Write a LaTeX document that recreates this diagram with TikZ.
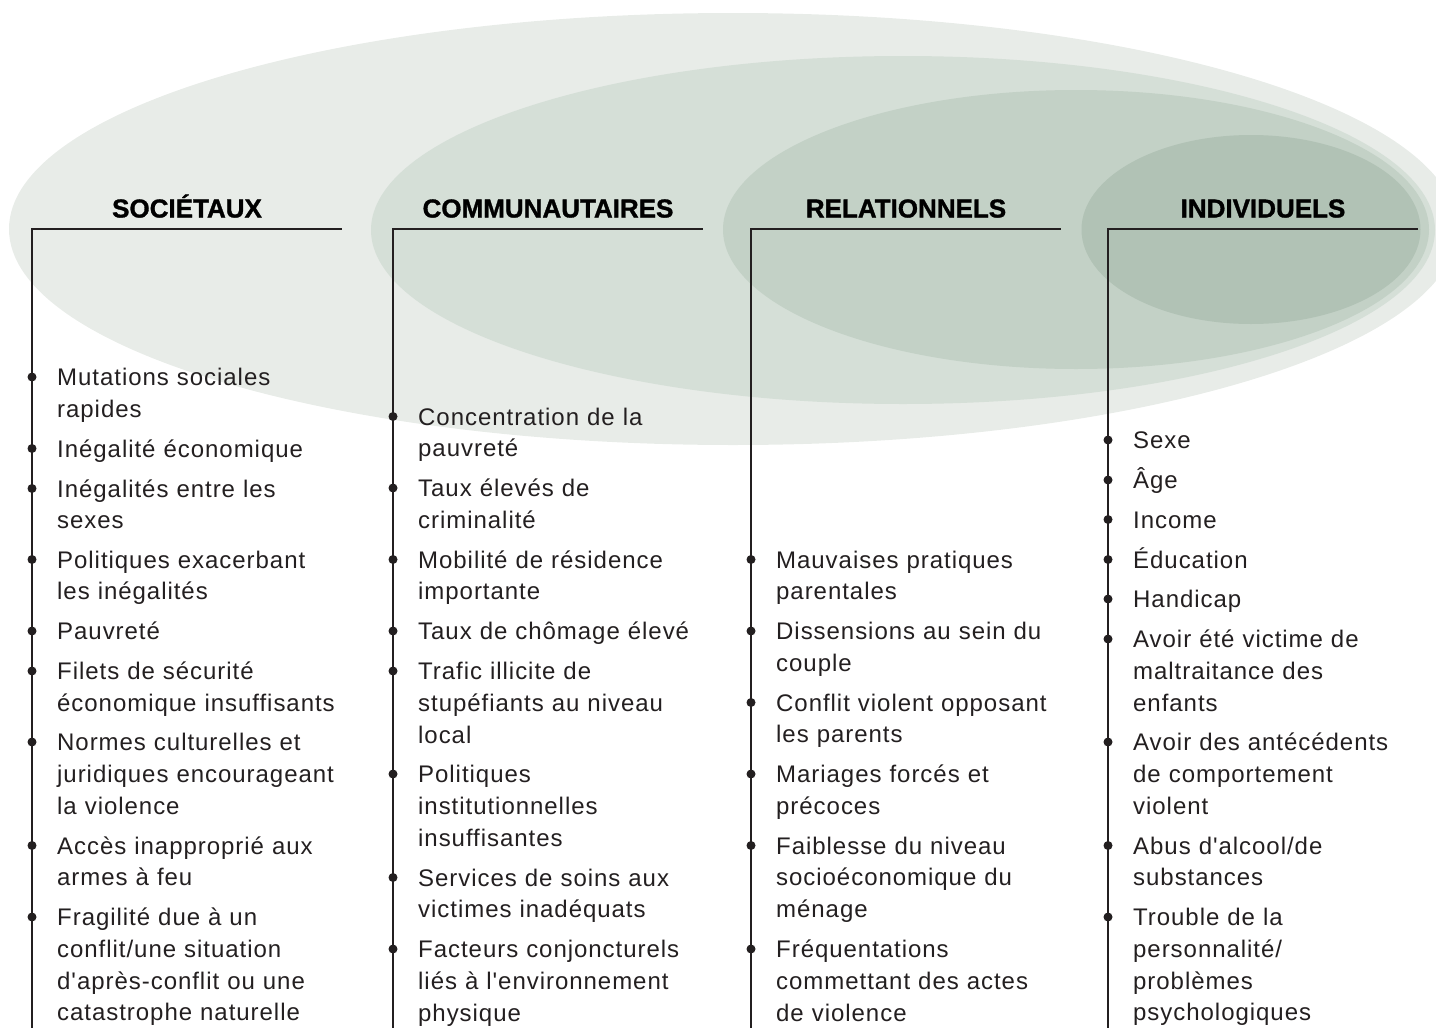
\documentclass[tikz,border=0pt]{standalone}
\usepackage{fontspec}
\newfontfamily\bodyfont{Liberation Sans}[LetterSpace=4,Ligatures=TeXOff]
\newfontfamily\headfont{Liberation Sans}[Ligatures=TeXOff,BoldFeatures={FakeBold=1.2}]
\definecolor{ellA}{HTML}{E8ECE8}
\definecolor{ellB}{HTML}{D5DFD7}
\definecolor{ellC}{HTML}{C3D1C6}
\definecolor{ellD}{HTML}{B1C2B5}
\definecolor{txt}{HTML}{231F20}
\tikzset{
  factor/.style={anchor=base west, inner sep=0pt, text width=330pt, align=left,
    font=\bodyfont\fontsize{24}{31.75}\selectfont, text=txt},
  head/.style={anchor=base, inner sep=0pt, font=\headfont\bfseries\fontsize{26}{30}\selectfont, text=black},
  rule/.style={line width=2pt, draw=txt},
  dot/.style={fill=txt}
}
% #1 name, #2 line x, #3 first-line centre y, #4 text
\newcommand\factoritem[4]{%
  \fill[dot] (#2,#3) circle (4.5pt);
  \node[factor] (#1) at ({#2+25},{#3+8.5}) {#4};
}
\begin{document}
\begin{tikzpicture}[x=1pt,y=-1pt]
\useasboundingbox (0,0) rectangle (1436,1028);
\clip (0,0) rectangle (1436,1028);
% nested ellipses
\fill[ellA] (733,229) ellipse [x radius=724pt, y radius=216pt];
\fill[ellB] (903,230) ellipse [x radius=532pt, y radius=174pt];
\fill[ellC] (1076,229.5) ellipse [x radius=353pt, y radius=139.5pt];
\fill[ellD] (1251,229.5) ellipse [x radius=169.5pt, y radius=94.5pt];

% column frames
\coordinate (s0) at (32,1028);   \coordinate (s1) at (342,229);
\coordinate (c0) at (393,1028);  \coordinate (c1) at (703,229);
\coordinate (r0) at (751,1028);  \coordinate (r1) at (1061,229);
\coordinate (i0) at (1108,1028); \coordinate (i1) at (1418,229);
\draw[rule] (s0) |- (s1);
\draw[rule] (c0) |- (c1);
\draw[rule] (r0) |- (r1);
\draw[rule] (i0) |- (i1);

% headings
\node[head] (hs) at (187,217.5) {SOCIÉTAUX};
\node[head] (hc) at (548,217.5) {COMMUNAUTAIRES};
\node[head] (hr) at (906,217.5) {RELATIONNELS};
\node[head] (hi) at (1263,217.5) {INDIVIDUELS};

% Sociétaux
\factoritem{s1}{32}{377}{Mutations sociales\\rapides}
\factoritem{s2}{32}{448.5}{Inégalité économique}
\factoritem{s3}{32}{488.5}{Inégalités entre les\\sexes}
\factoritem{s4}{32}{559.5}{Politiques exacerbant\\les inégalités}
\factoritem{s5}{32}{631}{Pauvreté}
\factoritem{s6}{32}{671}{Filets de sécurité\\économique insuffisants}
\factoritem{s7}{32}{742}{Normes culturelles et\\juridiques encourageant\\la violence}
\factoritem{s8}{32}{845.5}{Accès inapproprié aux\\armes à feu}
\factoritem{s9}{32}{917}{Fragilité due à un\\conflit/une situation\\d'après-conflit ou une\\catastrophe naturelle}

% Communautaires
\factoritem{c1}{393}{416.5}{Concentration de la\\pauvreté}
\factoritem{c2}{393}{488}{Taux élevés de\\criminalité}
\factoritem{c3}{393}{559.5}{Mobilité de résidence\\importante}
\factoritem{c4}{393}{631}{Taux de chômage élevé}
\factoritem{c5}{393}{671}{Trafic illicite de\\stupéfiants au niveau\\local}
\factoritem{c6}{393}{774}{Politiques\\institutionnelles\\insuffisantes}
\factoritem{c7}{393}{877.5}{Services de soins aux\\victimes inadéquats}
\factoritem{c8}{393}{949}{Facteurs conjoncturels\\liés à l'environnement\\physique}

% Relationnels
\factoritem{r1}{751}{559.5}{Mauvaises pratiques\\parentales}
\factoritem{r2}{751}{631}{Dissensions au sein du\\couple}
\factoritem{r3}{751}{702.5}{Conflit violent opposant\\les parents}
\factoritem{r4}{751}{774}{Mariages forcés et\\précoces}
\factoritem{r5}{751}{845.5}{Faiblesse du niveau\\socioéconomique du\\ménage}
\factoritem{r6}{751}{949}{Fréquentations\\commettant des actes\\de violence}

% Individuels
\factoritem{i1}{1108}{440}{Sexe}
\factoritem{i2}{1108}{480}{Âge}
\factoritem{i3}{1108}{519.5}{Income}
\factoritem{i4}{1108}{559.5}{Éducation}
\factoritem{i5}{1108}{599}{Handicap}
\factoritem{i6}{1108}{639}{Avoir été victime de\\maltraitance des\\enfants}
\factoritem{i7}{1108}{742}{Avoir des antécédents\\de comportement\\violent}
\factoritem{i8}{1108}{845.5}{Abus d'alcool/de\\substances}
\factoritem{i9}{1108}{917}{Trouble de la\\personnalité/\\problèmes\\psychologiques}
\end{tikzpicture}
\end{document}
